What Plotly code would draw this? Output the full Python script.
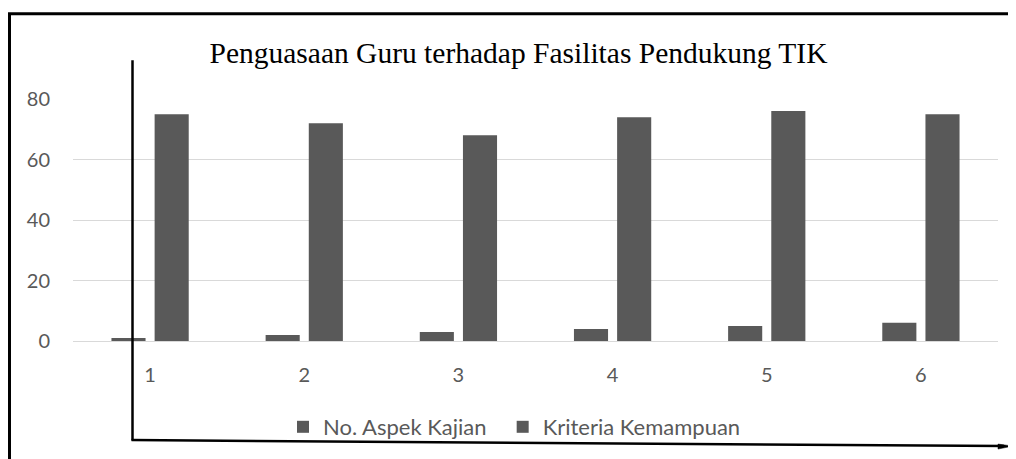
import plotly.graph_objects as go

categories = ["1", "2", "3", "4", "5", "6"]
no_aspek = [1, 2, 3, 4, 5, 6]
kriteria = [75, 72, 68, 74, 76, 75]
y_ticks = [0, 20, 40, 60, 80]

OFF = 8  # page body margin
W, H = 1016 - OFF, 459 - OFF
# plot area in screen pixels
SX0, SX1, SY0, SY1 = 73, 998, 99, 342
L, R, T, B = SX0 - OFF, (W + OFF) - SX1, SY0 - OFF, (H + OFF) - SY1
pw, ph = SX1 - SX0, SY1 - SY0


def px_x(x):
    return (x - SX0) / pw


def px_y(y):
    return (SY1 - y) / ph


bar_color = "#595959"
fig = go.Figure()
fig.add_trace(go.Bar(x=categories, y=no_aspek, name="No. Aspek Kajian\u00a0\u00a0",
                     marker=dict(color=bar_color, line=dict(width=0))))
fig.add_trace(go.Bar(x=categories, y=kriteria, name="Kriteria Kemampuan",
                     marker=dict(color=bar_color, line=dict(width=0))))

shapes = [
    dict(type="line", xref="paper", yref="paper", x0=px_x(9.5), x1=px_x(9.5),
         y0=px_y(13), y1=px_y(470), line=dict(color="black", width=3)),
    dict(type="line", xref="paper", yref="paper", x0=px_x(8), x1=px_x(1020),
         y0=px_y(13.5), y1=px_y(13.5), line=dict(color="black", width=3)),
    dict(type="line", xref="paper", yref="paper", x0=px_x(132.5), x1=px_x(132.5),
         y0=px_y(60), y1=px_y(442), line=dict(color="black", width=2.5)),
    dict(type="line", xref="paper", yref="paper", x0=px_x(131.5), x1=px_x(1004),
         y0=px_y(441.5), y1=px_y(447.5), line=dict(color="black", width=2.5)),
    dict(type="path", xref="paper", yref="paper",
         path=f"M {px_x(998)} {px_y(445.5)} L {px_x(1013)} {px_y(447.5)} L {px_x(998)} {px_y(450.5)} Z",
         fillcolor="black", line=dict(color="black", width=0.5)),
]

fig.update_layout(
    width=W, height=H,
    margin=dict(l=L, r=R, t=T, b=B, pad=0),
    paper_bgcolor="white", plot_bgcolor="white",
    barmode="group", bargap=0.44, bargroupgap=0.21,
    title=dict(text="Penguasaan Guru terhadap Fasilitas Pendukung TIK",
               font=dict(family="Liberation Serif", size=29.5, color="black"),
               xref="container", yref="container", x=(518.5 - OFF) / W, xanchor="center",
               y=1 - (53 - OFF) / H, yanchor="middle"),
    font=dict(family="Lato", size=20, color="#595959"),
    showlegend=True,
    legend=dict(orientation="h", xref="paper", yref="paper",
                x=px_x(283), xanchor="left", y=px_y(427), yanchor="middle",
                font=dict(family="Lato", size=22, color="#595959"),
                itemwidth=30, tracegroupgap=0,
                bgcolor="rgba(0,0,0,0)"),
    xaxis=dict(showgrid=False, showline=False, zeroline=False, ticks="",
               ticklabelstandoff=20, tickfont=dict(size=20, color="#595959")),
    yaxis=dict(range=[0, 80], tickvals=y_ticks, showgrid=True, gridcolor="#d9d9d9",
               gridwidth=1.3, zeroline=True, zerolinecolor="#d9d9d9", zerolinewidth=1.3,
               showline=False, ticks="", ticklabelstandoff=22,
               tickfont=dict(size=20, color="#595959")),
    shapes=shapes,
)

fig.write_html("out.html")
